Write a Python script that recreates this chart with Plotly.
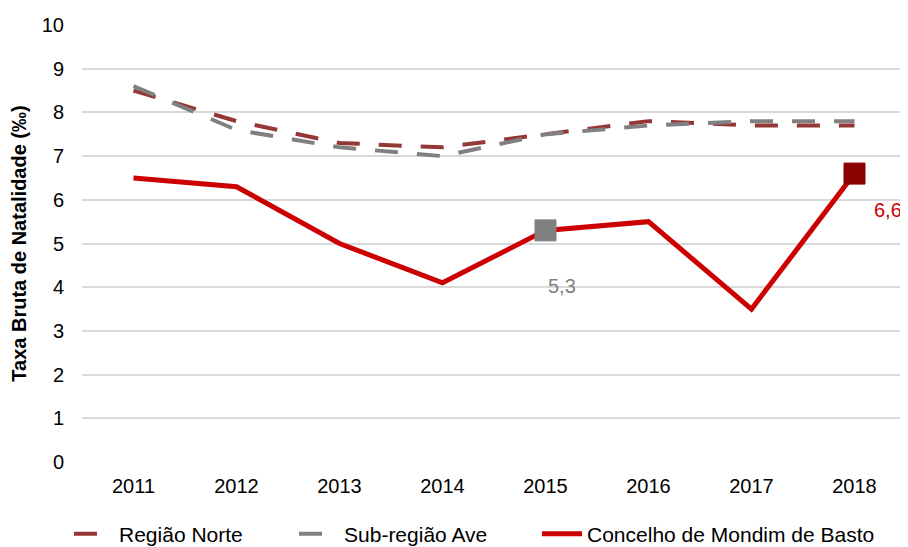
import plotly.graph_objects as go

anos = [2011, 2012, 2013, 2014, 2015, 2016, 2017, 2018]
regiao_norte = [8.5, 7.8, 7.3, 7.2, 7.5, 7.8, 7.7, 7.7]
sub_regiao_ave = [8.6, 7.6, 7.2, 7.0, 7.5, 7.7, 7.8, 7.8]
mondim_basto = [6.5, 6.3, 5.0, 4.1, 5.3, 5.5, 3.5, 6.6]
y_ticks = list(range(0, 11))

FONT = "Liberation Sans, Arial, sans-serif"
FS = 20

fig = go.Figure()
fig.add_trace(go.Scatter(
    x=anos, y=regiao_norte, mode="lines", name="Região Norte", legend="legend",
    line=dict(color="#953735", width=4, dash="23px,19px"),
))
fig.add_trace(go.Scatter(
    x=anos, y=sub_regiao_ave, mode="lines", name="Sub-região Ave", legend="legend2",
    line=dict(color="#808080", width=4, dash="23px,19px"),
))
fig.add_trace(go.Scatter(
    x=anos, y=mondim_basto, mode="lines", name="Concelho de Mondim de Basto", legend="legend3",
    line=dict(color="#CC0000", width=5),
))
# highlighted points
fig.add_trace(go.Scatter(
    x=[anos[4]], y=[mondim_basto[4]], mode="markers", showlegend=False,
    marker=dict(symbol="square", size=21, color="#808080",
                line=dict(color="#808080", width=1)),
))
fig.add_trace(go.Scatter(
    x=[anos[7]], y=[mondim_basto[7]], mode="markers", showlegend=False,
    marker=dict(symbol="square", size=21, color="#8B0000",
                line=dict(color="#8B0000", width=1)),
))
fig.add_annotation(x=anos[4], y=mondim_basto[4], text="5,3", showarrow=False,
                   yshift=-56, xshift=16, font=dict(color="#808080", size=FS, family=FONT))
fig.add_annotation(x=anos[7], y=mondim_basto[7], text="6,6", showarrow=False,
                   yshift=-36, xshift=33, font=dict(color="#CC0000", size=FS, family=FONT))

legend_common = dict(orientation="h", xanchor="left", xref="container",
                     y=0.024, yanchor="middle", yref="container",
                     font=dict(size=21, family=FONT), itemwidth=40,
                     bgcolor="rgba(0,0,0,0)")

# the page body adds an 8px offset, so the figure is sized/margined to compensate
fig.update_layout(
    width=900, height=539,
    margin=dict(l=74, r=2, t=17, b=85, autoexpand=False),
    plot_bgcolor="white", paper_bgcolor="white",
    font=dict(family=FONT, size=FS, color="#000000"),
    showlegend=True,
    legend=dict(x=0.0678, **legend_common),
    legend2=dict(x=0.3178, **legend_common),
    legend3=dict(x=0.5878, **legend_common),
    xaxis=dict(range=[2010.5, 2018.5], tickvals=anos, ticktext=[str(a) for a in anos],
               showgrid=False, zeroline=False, showline=False, ticks="",
               ticklabelstandoff=10, tickfont=dict(size=FS)),
    yaxis=dict(range=[0, 10], tickvals=y_ticks, showgrid=True, gridcolor="#D9D9D9",
               gridwidth=1.5, zeroline=False, showline=False, ticks="",
               ticklabelstandoff=17,
               title=dict(text="<b>Taxa Bruta de Natalidade (‰)</b>", font=dict(size=FS), standoff=12),
               tickfont=dict(size=FS)),
)
fig.write_html("out.html")
